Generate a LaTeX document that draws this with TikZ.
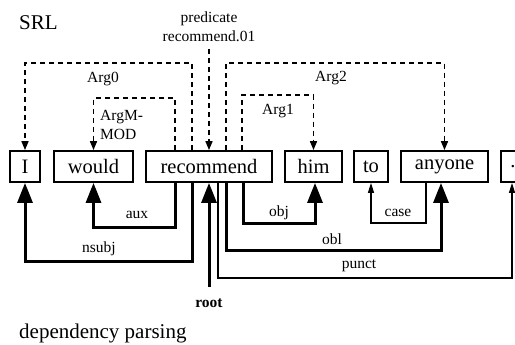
\documentclass[tikz,border=0pt]{standalone}
\usepackage{fontspec}
\setmainfont{Liberation Serif}
\usetikzlibrary{arrows.meta}
\begin{document}
\begin{tikzpicture}[x=1pt,y=-1pt,
  word/.style={draw,line width=1.8pt,minimum height=31pt,inner sep=0pt,
    font=\fontsize{20.5}{22}\selectfont},
  lbl/.style={font=\fontsize{15.5}{19}\selectfont,inner sep=0pt},
  title/.style={font=\fontsize{21}{24}\selectfont,inner sep=0pt,anchor=west},
  srl/.style={line width=1.6pt,dash pattern=on 5pt off 4pt,
    -{Triangle[width=7pt,length=9pt]}},
  dep/.style={line width=3pt,-{Triangle[width=15pt,length=20pt]}},
  depthin/.style={line width=1.2pt,-{Triangle[width=6pt,length=10pt]}},
]
\clip (0,0) rectangle (515,345);
\fill[white] (0,0) rectangle (515,345);

% headings
\node[title] (srlt) at (19,23) {SRL};
\node[title] (dept) at (19,333) {dependency parsing};

% token boxes
\node[word,minimum width=30pt]  (I)     at (25,166.5)   {I};
\node[word,minimum width=79pt]  (would) at (93.5,166.5) {would};
\node[word,minimum width=126pt] (rec)   at (209,166.5)  {recommend};
\node[word,minimum width=57pt]  (him)   at (313.5,166.5){him};
\node[word,minimum width=34pt]  (to)    at (371,166.5)  {to};
\node[word,minimum width=87pt]  (any)   at (444.5,166.5){anyone};
\node[word,minimum width=24pt]  (dot)   at (513,166.5)  {.};

% semantic roles (dashed, above)
\node[lbl,align=center] (pred) at (209,26.5) {predicate\\recommend.01};
\coordinate (predend) at (209,49);
\draw[srl] (predend) -- (rec.north);
\draw[srl] ([xshift=-17pt]rec.north) |- ([yshift=87pt]I.north) -- (I.north);
\draw[srl] ([xshift=-34pt]rec.north) |- ([yshift=52pt]would.north) -- (would.north);
\draw[srl] ([xshift=17pt]rec.north) |- ([yshift=87pt]any.north) -- (any.north);
\draw[srl] ([xshift=33pt]rec.north) |- ([yshift=55pt]him.north) -- (him.north);
\node[lbl] (arg0) at (103,79) {Arg0};
\node[lbl,align=left,anchor=west] (argm) at (100,124.5) {ArgM-\\MOD};
\node[lbl] (arg2) at (331,78) {Arg2};
\node[lbl] (arg1) at (278,111) {Arg1};

% dependency relations (solid, below)
\draw[dep] ([xshift=-34pt]rec.south) |- ([yshift=-45pt]would.south) -- (would.south);
\draw[dep] ([xshift=-17pt]rec.south) |- ([yshift=-79pt]I.south) -- (I.south);
\coordinate (rootend) at (209,287);
\draw[dep] (rootend) -- (rec.south);
\draw[dep] ([xshift=34pt]rec.south) |- ([xshift=1.5pt,yshift=-41pt]him.south) -- ([xshift=1.5pt]him.south);
\draw[dep] ([xshift=17pt]rec.south) |- ([xshift=-3.5pt,yshift=-68pt]any.south) -- ([xshift=-3.5pt]any.south);
\draw[depthin] ([xshift=9pt]rec.south) |- ([xshift=-1pt,yshift=-95pt]dot.south) -- ([xshift=-1pt]dot.south);
\draw[depthin] ([xshift=-18.5pt]any.south) |- ([yshift=-40pt]to.south) -- (to.south);
\node[lbl] (aux) at (137,215) {aux};
\node[lbl] (nsubj) at (99,249) {nsubj};
\node[lbl] (root) at (209,303) {\textbf{root}};
\node[lbl] (obj) at (279,213) {obj};
\node[lbl] (obl) at (332,239) {obl};
\node[lbl] (punct) at (359,266) {punct};
\node[lbl] (case) at (398,213) {case};
\end{tikzpicture}
\end{document}
